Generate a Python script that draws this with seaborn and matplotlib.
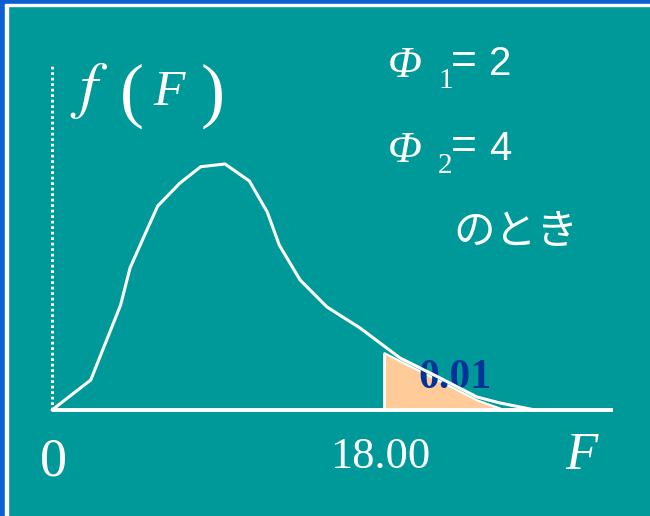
import numpy as np
import pandas as pd
import matplotlib
matplotlib.use("Agg")
import matplotlib.pyplot as plt
from matplotlib.patches import Rectangle
import seaborn as sns

# F分布の密度曲線
F_vals = [0.0, 2.10, 3.72, 4.23, 4.95, 5.73, 6.94, 8.06, 9.38, 10.70, 11.67,
          12.32, 13.45, 14.91, 16.70, 18.87, 21.04, 23.04, 24.29, 26.19]
dens = [0.0, 0.120, 0.420, 0.568, 0.688, 0.816, 0.908, 0.973, 0.984, 0.916, 0.792,
        0.660, 0.520, 0.412, 0.328, 0.208, 0.128, 0.052, 0.028, 0.0]

# 上側1%の部分
tail_F = [18.0, 18.87, 21.04, 23.04, 24.56]
tail_y = [0.229, 0.196, 0.116, 0.040, 0.0]

crit = 18.00
axis_end = 30.4
y_axis_top = 1.38

teal = "#009999"
blue = "#0A5FD2"
peach = "#FFCC99"
navy = "#003399"

df = pd.DataFrame({"F": F_vals, "f": dens})

sns.set_style("white")
plt.rcParams["font.family"] = ["Liberation Serif", "DejaVu Sans"]
plt.rcParams["mathtext.fontset"] = "stix"

W, H = 650, 516
fig = plt.figure(figsize=(W / 100, H / 100), dpi=100, facecolor=teal)

def frac(x, y):
    return x / W, 1 - y / H

# 左と上の枠
fig.patches.append(Rectangle((0, 0), 5 / W, 1, transform=fig.transFigure, color=blue, zorder=0))
fig.patches.append(Rectangle((5 / W, 0), 3 / W, 1 - 4 / H, transform=fig.transFigure, color="white", zorder=0))
fig.patches.append(Rectangle((0, 1 - 4 / H), 1, 4 / H, transform=fig.transFigure, color=blue, zorder=0))
fig.patches.append(Rectangle((5 / W, 1 - 6 / H), 1, 2 / H, transform=fig.transFigure, color="white", zorder=0))

ax = fig.add_axes([0, 0, 1, 1])
ax.set_facecolor("none")
s = 332 / 18
ax.set_xlim(-52 / s, (W - 52) / s)
ax.set_ylim(-(H - 410) / 250, 410 / 250)
ax.axis("off")

ax.fill_between(tail_F, tail_y, color=peach, edgecolor="white", lw=1.6, zorder=2)
ax.vlines(tail_F[0], 0, tail_y[0], color="white", lw=1.8, zorder=3)
sns.lineplot(data=df, x="F", y="f", color="white", lw=2.2, ax=ax, zorder=4)
ax.hlines(0, 0, axis_end, color="white", lw=2.8, zorder=5)
ax.vlines(0, 0, y_axis_top, color="white", lw=2.2, linestyles=(0, (0.9, 0.9)), zorder=5)

def put(x, y, t, **kw):
    ax.text(*frac(x, y), t, transform=ax.transAxes, color=kw.pop("color", "white"),
            va="baseline", ha="left", **kw)

serif = ["Liberation Serif", "DejaVu Serif"]
sans = ["Liberation Sans", "DejaVu Sans"]

# f( F )
put(70, 106, r"$f$", fontsize=46)
put(120, 114, "(", family=serif, fontsize=52)
put(153, 105, "F", family=serif, style="italic", fontsize=37)
put(201, 114, ")", family=serif, fontsize=52)

# Φ1 = 2, Φ2 = 4
for base, sub, val in [(77, "1", "2"), (162, "2", "4")]:
    put(388, base, "Φ", family=serif, style="italic", fontsize=32)
    put(438, base + 11, sub, family=serif, fontsize=21)
    put(451, base - 3, "=", family=sans, fontsize=32)
    put(489, base - 2, val, family=sans, fontsize=29)

ax.text(*frac(453, 232), "のとき", transform=ax.transAxes, color="white",
        family=["Noto Sans CJK JP", "DejaVu Sans"], fontsize=30, va="center", ha="left")

put(418, 388, "0.01", family=serif, fontweight="bold", fontsize=30, color=navy)
put(40, 475, "0", family=serif, fontsize=39)
put(330, 468, f"{crit:.2f}", family=serif, fontsize=32)
put(565, 469, "F", family=serif, style="italic", fontsize=38)

fig.savefig("out.png", dpi=100, facecolor=teal)
